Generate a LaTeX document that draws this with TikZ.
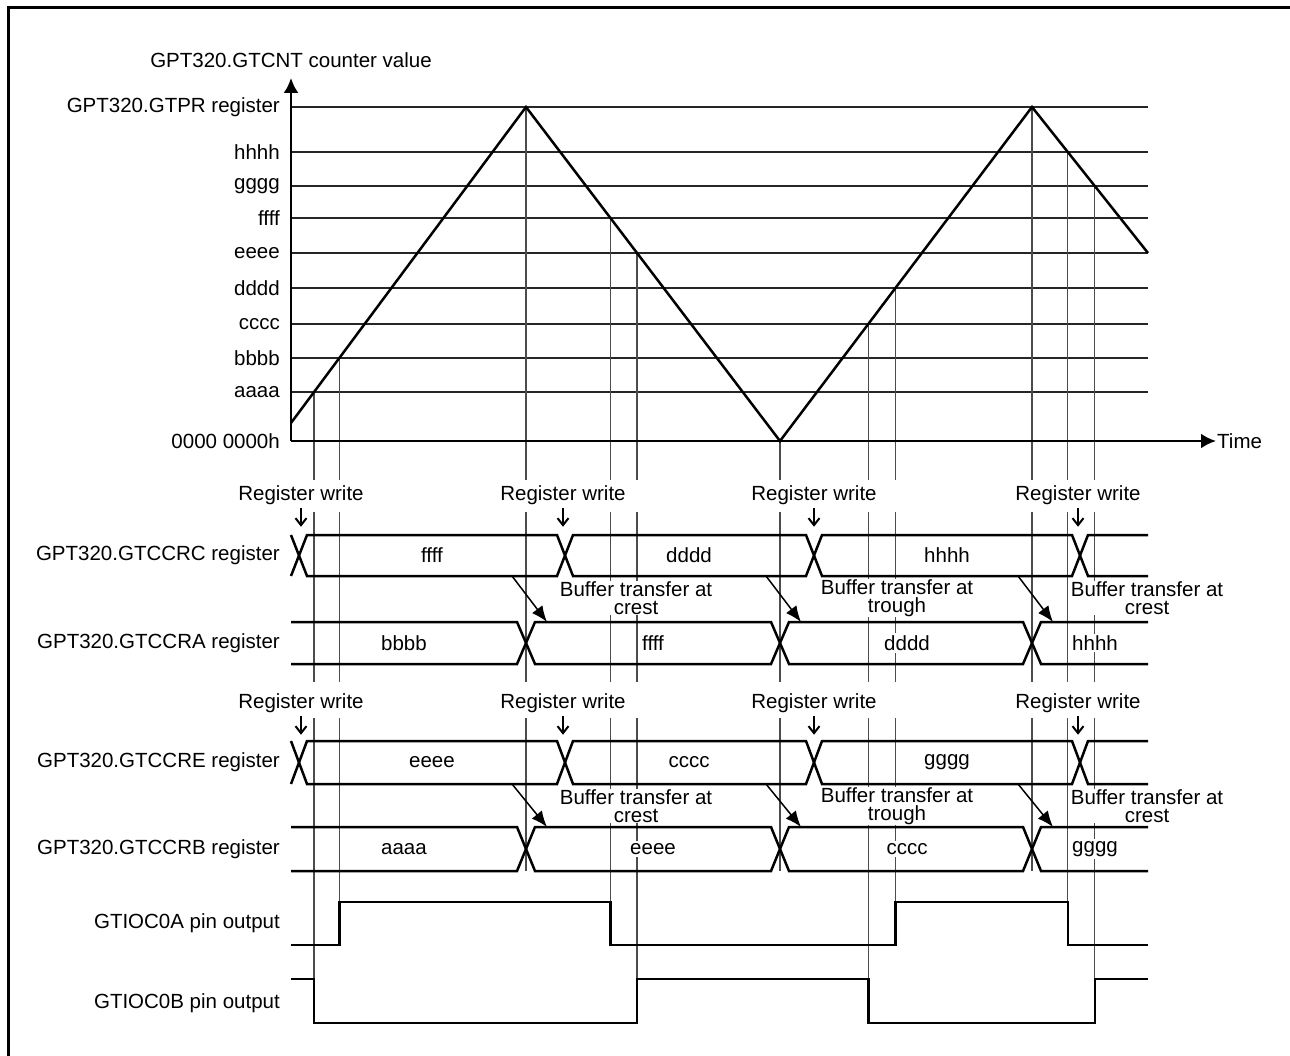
\documentclass[tikz,border=0pt]{standalone}
\usepackage{fontspec}
\setmainfont{Liberation Sans}
\usetikzlibrary{arrows.meta,calc}

\begin{document}
\begin{tikzpicture}[
    x=1pt, y=-1pt,
    every node/.style={font=\fontsize{20.5}{18}\selectfont, inner sep=1pt},
    sig/.style={line width=2.5pt},
    level/.style={line width=1.1pt, draw=black!85},
    guide/.style={line width=1.1pt, draw=black!70},
    axis/.style={line width=2.5pt, -{Latex[length=15pt,width=15pt]}},
    lbl/.style={anchor=east},
    val/.style={fill=white, inner sep=2pt},
    wr/.style={line width=2pt, -{Straight Barb[length=7pt,width=11pt]}},
    xfer/.style={line width=1.5pt, -{Latex[length=16pt,width=13pt]}},
    note/.style={fill=white, align=center, inner sep=0pt}
  ]
    \useasboundingbox (0,0) rectangle (1290,1056);
    \draw[line width=3pt] (8,1056) -- (8,8) -- (1290,8);

    % counter levels
    \foreach \y/\t [count=\i] in {107/GPT320.GTPR register, 152/hhhh, 186/gggg, 218/ffff,
        253/eeee, 288/dddd, 324/cccc, 358/bbbb, 392/aaaa} {
      \draw[level] (291,\y) -- (1148,\y);
      \node[lbl] (lv\i) at (281,\y) {\t};
    }
    \node[lbl] (zero) at (281,441) {0000 0000h};
    \node (cnt) at (291,60) {GPT320.GTCNT counter value};

    % counter waveform
    \coordinate (c0) at (291,423);
    \coordinate (pk1) at (526,107);
    \coordinate (tr1) at (780,441);
    \coordinate (pk2) at (1032,107);
    \coordinate (c1) at (1148,253);
    \coordinate (tA) at (314,392);
    \coordinate (tB) at (339.3,358);
    \coordinate (tF) at (610.4,218);
    \coordinate (tE) at (637,253);
    \coordinate (tC) at (868.3,324);
    \coordinate (tD) at (895.4,288);
    \coordinate (tH) at (1067.8,152);
    \coordinate (tG) at (1094.8,186);

    % guide lines
    \foreach \p/\e in {tA/1023, tB/945, pk1/871, tF/945, tE/1023, tr1/871,
        tC/1023, tD/945, pk2/871, tH/945, tG/1023}
      \draw[guide] (\p) -- (\p |- 0,480) (\p |- 0,512) -- (\p |- 0,682)
        (\p |- 0,718) -- (\p |- 0,\e);

    \draw[sig] (c0) -- (pk1) -- (tr1) -- (pk2) -- (c1);

    % axes
    \coordinate (origin) at (291,441);
    \coordinate (ytop) at (291,78);
    \node[anchor=west] (time) at (1216,441) {Time};
    \draw[axis] (origin) -- (ytop);
    \draw[axis] (origin) -- (time.west);

    % register rows
    \node[lbl] (rowC) at (281,555) {GPT320.GTCCRC register};
    \node[lbl] (rowA) at (281,643) {GPT320.GTCCRA register};
    \node[lbl] (rowE) at (281,762) {GPT320.GTCCRE register};
    \node[lbl] (rowB) at (281,849) {GPT320.GTCCRB register};
    \node[lbl] (pinA) at (281,923) {GTIOC0A pin output};
    \node[lbl] (pinB) at (281,1003) {GTIOC0B pin output};

    % GTCCRC / GTCCRE buses
    \foreach \t/\b in {535/576, 741/784} {
      \draw[sig] (291,\t) -- (307,\b) -- (557,\b) -- (573,\t) -- (806,\t) -- (822,\b)
        -- (1072,\b) -- (1088,\t) -- (1148,\t);
      \draw[sig] (291,\b) -- (307,\t) -- (557,\t) -- (573,\b) -- (806,\b) -- (822,\t)
        -- (1072,\t) -- (1088,\b) -- (1148,\b);
    }
    % GTCCRA / GTCCRB buses
    \foreach \t/\b in {622/664, 827/871} {
      \draw[sig] (291,\t) -- (517,\t) -- (535,\b) -- (771,\b) -- (789,\t) -- (1023,\t)
        -- (1041,\b) -- (1148,\b);
      \draw[sig] (291,\b) -- (517,\b) -- (535,\t) -- (771,\t) -- (789,\b) -- (1023,\b)
        -- (1041,\t) -- (1148,\t);
    }

    \node[val] (vc1) at (432,555) {ffff};
    \node[val] (vc2) at (689,555) {dddd};
    \node[val] (vc3) at (947,555) {hhhh};
    \node[val] (va1) at (404,643) {bbbb};
    \node[val] (va2) at (653,643) {ffff};
    \node[val] (va3) at (907,643) {dddd};
    \node[val] (va4) at (1095,643) {hhhh};
    \node[val] (ve1) at (432,762) {eeee};
    \node[val] (ve2) at (689,762) {cccc};
    \node[val] (ve3) at (947,762) {gggg};
    \node[val] (vb1) at (404,849) {aaaa};
    \node[val] (vb2) at (653,849) {eeee};
    \node[val] (vb3) at (907,849) {cccc};
    \node[val] (vb4) at (1095,849) {gggg};

    % register writes
    \foreach \x [count=\i] in {301,563,814,1078} {
      \node (rwU\i) at (\x,495) {Register write};
      \node (rwL\i) at (\x,703) {Register write};
      \draw[wr] (rwU\i.south) ++(0,2) -- ++(0,19);
      \draw[wr] (rwL\i.south) ++(0,2) -- ++(0,19);
    }

    % buffer transfers
    \node[note] (btU1) at (636,598) {Buffer transfer at\\crest};
    \node[note] (btU2) at (897,598) {Buffer transfer at\\trough};
    \node[note] (btU3) at (1147,598) {Buffer transfer at\\crest};
    \node[note] (btL1) at (636,806) {Buffer transfer at\\crest};
    \node[note] (btL2) at (897,806) {Buffer transfer at\\trough};
    \node[note] (btL3) at (1147,806) {Buffer transfer at\\crest};
    \foreach \c in {pk1,tr1,pk2} {
      \draw[xfer] ($(\c |- 0,576)+(-14,0)$) -- ($(\c |- 0,622)+(21,0)$);
      \draw[xfer] ($(\c |- 0,784)+(-14,0)$) -- ($(\c |- 0,827)+(21,0)$);
    }

    % pin outputs
    \draw[sig] (291,945) -- (tB |- 0,945) -- (tB |- 0,902) -- (tF |- 0,902) -- (tF |- 0,945)
      -- (tD |- 0,945) -- (tD |- 0,902) -- (tH |- 0,902) -- (tH |- 0,945) -- (1148,945);
    \draw[sig] (291,979) -- (tA |- 0,979) -- (tA |- 0,1023) -- (tE |- 0,1023) -- (tE |- 0,979)
      -- (tC |- 0,979) -- (tC |- 0,1023) -- (tG |- 0,1023) -- (tG |- 0,979) -- (1148,979);
\end{tikzpicture}
\end{document}
